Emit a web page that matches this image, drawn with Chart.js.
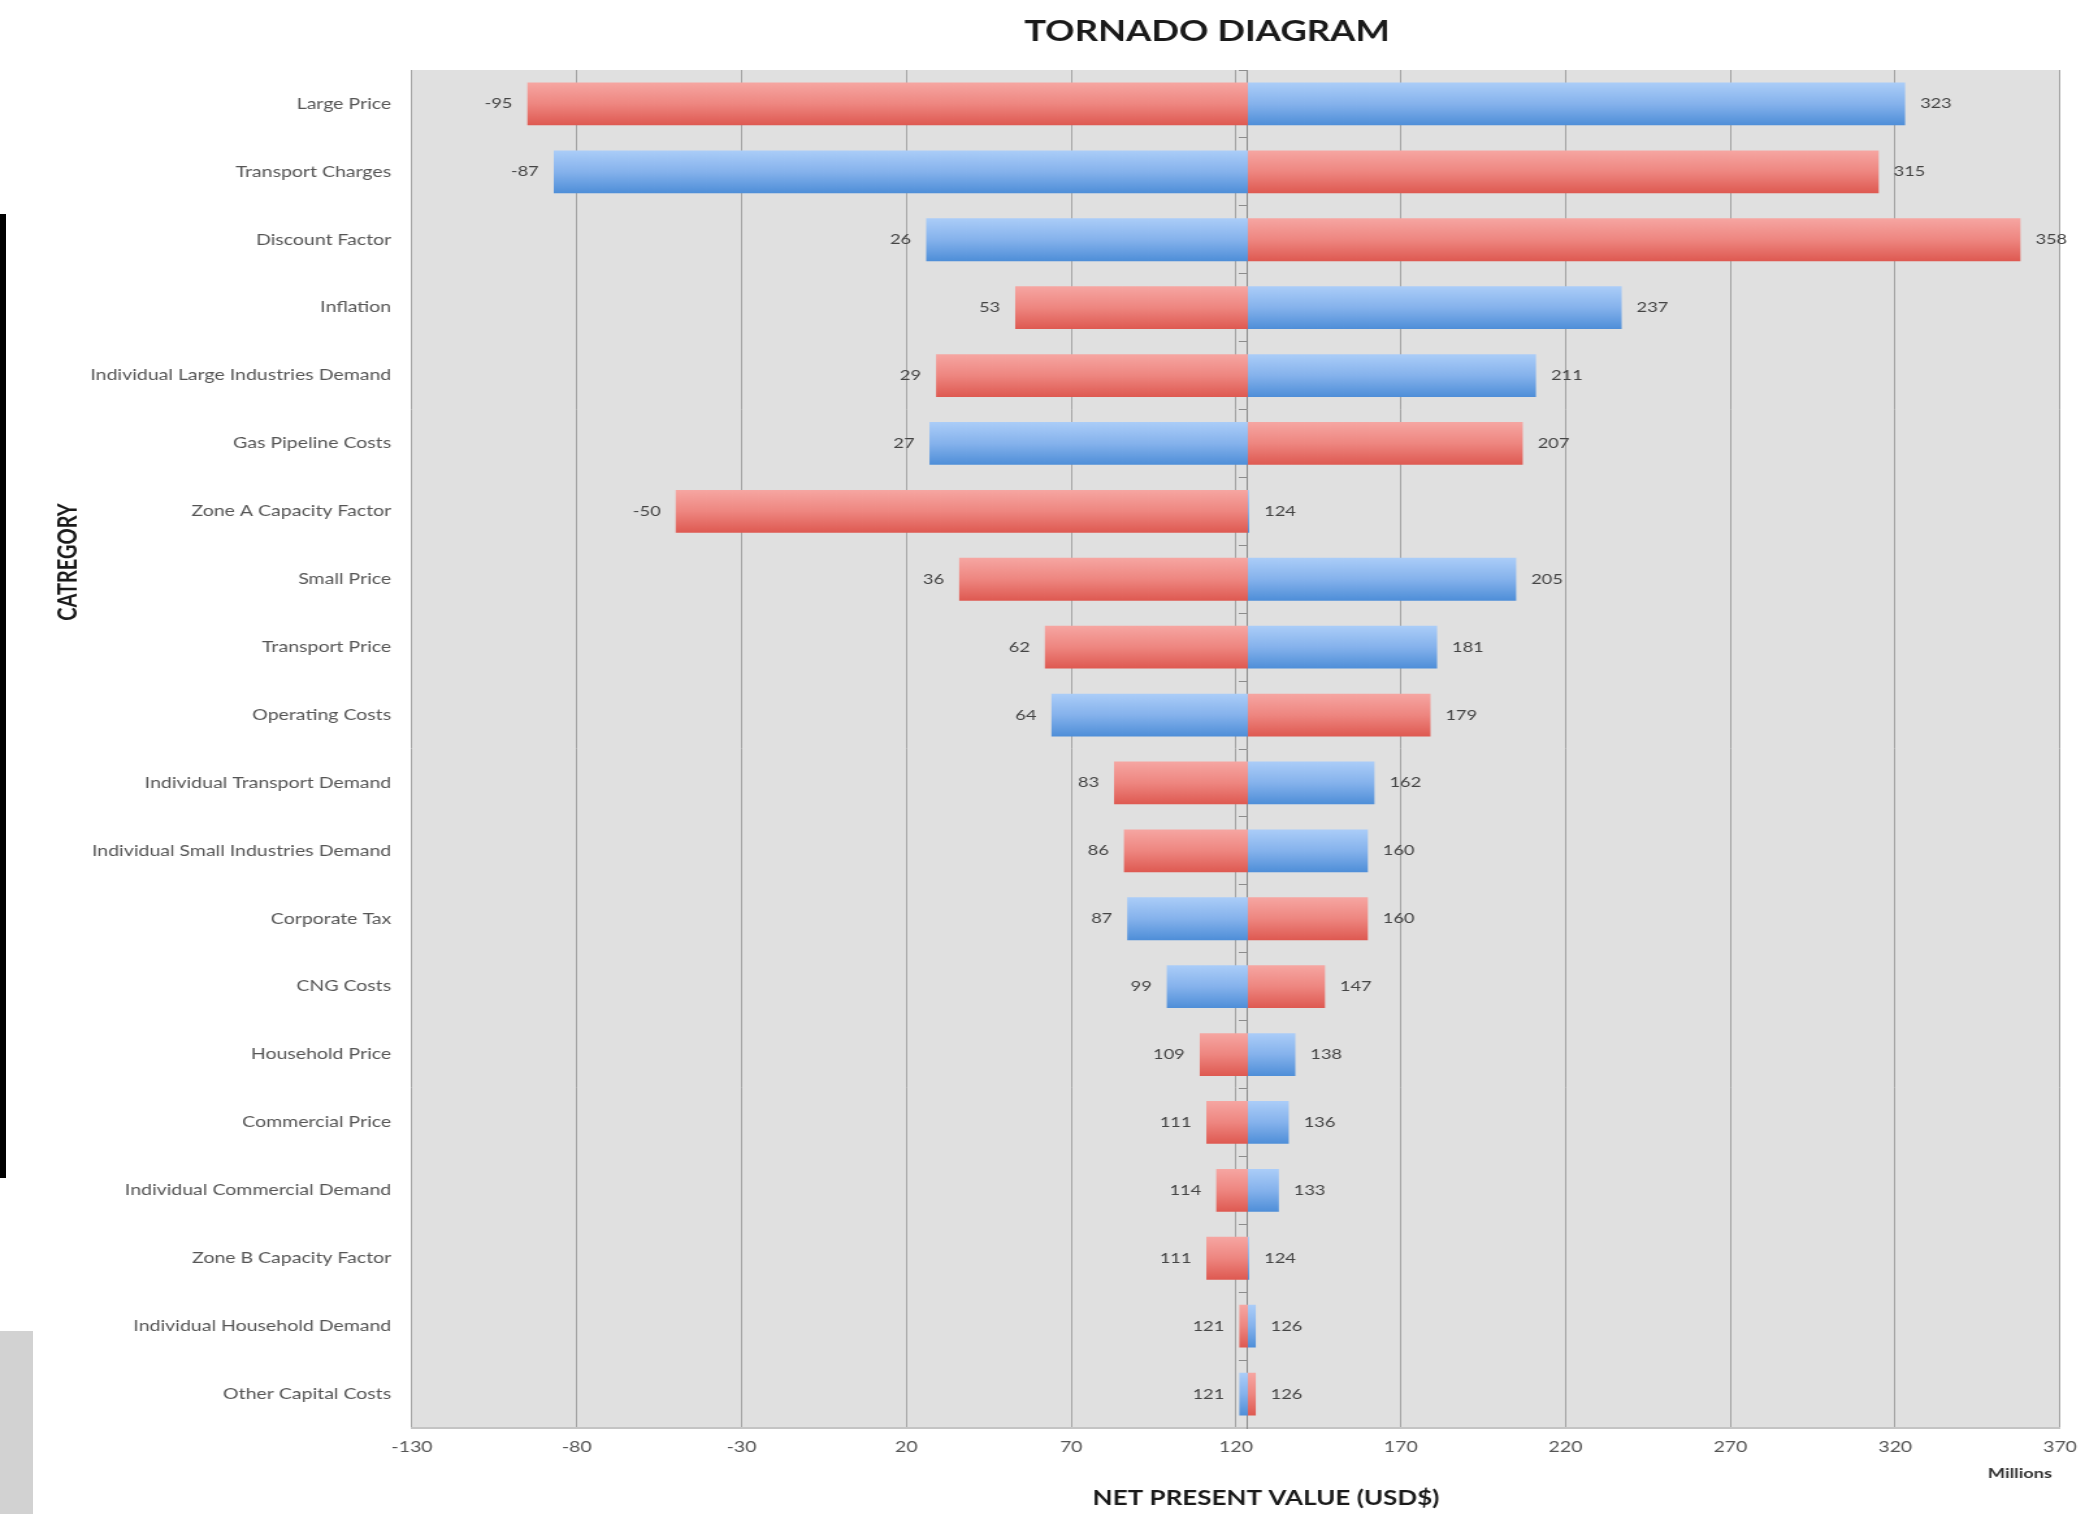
<!DOCTYPE html>
<html>
<head>
<meta charset="utf-8">
<style>
  html, body { margin: 0; padding: 0; background: #ffffff; overflow: hidden; }
  #wrap { position: relative; width: 2098px; height: 1514px; overflow: hidden; }
  #stretch { position: absolute; left: 0; top: 0; width: 1614px; height: 1514px; transform-origin: 0 0; }
  #c { display: block; }
  .artifact-bar { position: absolute; left: 0; top: 214px; width: 6px; height: 964px; background: #000; }
  .artifact-box { position: absolute; left: 0; top: 1331px; width: 33px; height: 183px; background: #d2d2d2; }
</style>
<script src="https://cdn.jsdelivr.net/npm/chart.js@4.4.1/dist/chart.umd.min.js"></script>
</head>
<body>
<div id="wrap">
  <div id="stretch"><canvas id="c" width="1614" height="1514"></canvas></div>
  <div class="artifact-bar"></div>
  <div class="artifact-box"></div>
</div>
<script>
// ---------- DATA ----------
const categories = [
  "Large Price", "Transport Charges", "Discount Factor", "Inflation",
  "Individual Large Industries Demand", "Gas Pipeline Costs", "Zone A Capacity Factor",
  "Small Price", "Transport Price", "Operating Costs", "Individual Transport Demand",
  "Individual Small Industries Demand", "Corporate Tax", "CNG Costs", "Household Price",
  "Commercial Price", "Individual Commercial Demand", "Zone B Capacity Factor",
  "Individual Household Demand", "Other Capital Costs"
];
const redValues  = [-95, 315, 358, 53, 29, 207, -50, 36, 62, 179, 83, 86, 160, 147, 109, 111, 114, 111, 121, 126];
const blueValues = [323, -87, 26, 237, 211, 27, 124, 205, 181, 64, 162, 160, 87, 99, 138, 136, 133, 124, 126, 121];
const baseValue = 123.6;
const xTickMin = -130, xTickMax = 370, xTickStep = 50;
const chartTitle = "TORNADO DIAGRAM";
const xTitle = "NET PRESENT VALUE (USD$)";
const yTitle = "CATREGORY";
const unitsLabel = "Millions";

// ---------- LAYOUT / STYLE ----------
// The reference picture is horizontally stretched; the canvas is drawn narrower and stretched with CSS.
const CANVAS_W = 1614, CANVAS_H = 1514;
const SX = 2098 / CANVAS_W;
document.getElementById('stretch').style.transform = 'scaleX(' + SX + ')';
const fx = v => v / SX; // full-page x -> canvas x

const FONT = "Lato, 'Open Sans', 'DejaVu Sans', sans-serif";
const PLOT = { left: fx(412), right: fx(2060), top: 70, bottom: 1428 };

const redData = redValues.map(v => [baseValue, v]);
const blueData = blueValues.map(v => [baseValue, v]);

const gradColors = {
  red:  ['#f6a6a2', '#ee8680', '#de5951'],
  blue: ['#abcdf8', '#85b2ec', '#4e8ed8']
};

const plotBg = {
  id: 'plotBg',
  beforeDraw(chart) {
    const { ctx, chartArea: a } = chart;
    ctx.save();
    ctx.fillStyle = '#e0e0e0';
    ctx.fillRect(a.left, a.top, a.right - a.left, a.bottom - a.top);
    ctx.restore();
  }
};

const barGradients = {
  id: 'barGradients',
  beforeDatasetsDraw(chart) {
    const ctx = chart.ctx;
    chart.data.datasets.forEach((ds, di) => {
      const meta = chart.getDatasetMeta(di);
      const cols = gradColors[ds.colorKey];
      meta.data.forEach(el => {
        const p = el.getProps(['y', 'height'], true);
        const top = p.y - p.height / 2, bot = p.y + p.height / 2;
        const g = ctx.createLinearGradient(0, top, 0, bot);
        g.addColorStop(0, cols[0]);
        g.addColorStop(0.5, cols[1]);
        g.addColorStop(1, cols[2]);
        el.options.backgroundColor = g;
      });
    });
  }
};

const valueLabels = {
  id: 'valueLabels',
  afterDatasetsDraw(chart) {
    const ctx = chart.ctx;
    ctx.save();
    ctx.font = "14px " + FONT;
    ctx.fillStyle = '#444444';
    ctx.textBaseline = 'middle';
    chart.data.datasets.forEach((ds, di) => {
      const meta = chart.getDatasetMeta(di);
      meta.data.forEach((el, i) => {
        const v = ds.rawValues[i];
        const p = el.getProps(['x', 'y', 'base'], true);
        if (v < baseValue - 0.5) {
          ctx.textAlign = 'right';
          ctx.fillText(String(v), Math.min(p.x, p.base) - fx(15), p.y);
        } else {
          ctx.textAlign = 'left';
          ctx.fillText(String(v), Math.max(p.x, p.base) + fx(15), p.y);
        }
      });
    });
    ctx.restore();
  }
};

const titles = {
  id: 'titles',
  afterDraw(chart) {
    const ctx = chart.ctx;
    ctx.save();
    ctx.fillStyle = '#1a1a1a';
    ctx.textAlign = 'center';
    ctx.textBaseline = 'middle';
    ctx.font = "bold 28px " + FONT;
    ctx.fillText(chartTitle, fx(1207), 32);
    ctx.font = "bold 20px " + FONT;
    ctx.fillText(xTitle, fx(1266), 1499);
    ctx.font = "bold 14px " + FONT;
    ctx.fillStyle = '#333333';
    ctx.fillText(unitsLabel, fx(2020), 1473);
    ctx.translate(fx(68), 562);
    ctx.rotate(-Math.PI / 2);
    ctx.font = "bold 20px " + FONT;
    ctx.fillStyle = '#1a1a1a';
    ctx.fillText(yTitle, 0, 0);
    ctx.restore();
  }
};

new Chart(document.getElementById('c'), {
  type: 'bar',
  data: {
    labels: categories,
    datasets: [
      {
        label: 'Red',
        colorKey: 'red',
        rawValues: redValues,
        data: redData,
        backgroundColor: () => '#e8736c',
        borderWidth: 0,
        borderSkipped: false,
        grouped: false,
        barPercentage: 0.63,
        categoryPercentage: 1.0
      },
      {
        label: 'Blue',
        colorKey: 'blue',
        rawValues: blueValues,
        data: blueData,
        backgroundColor: () => '#6fa3e6',
        borderWidth: 0,
        borderSkipped: false,
        grouped: false,
        barPercentage: 0.63,
        categoryPercentage: 1.0
      }
    ]
  },
  options: {
    indexAxis: 'y',
    responsive: false,
    animation: false,
    devicePixelRatio: 1,
    layout: { padding: { top: PLOT.top, left: 0, right: CANVAS_W - PLOT.right, bottom: 0 } },
    plugins: {
      legend: { display: false },
      title: { display: false },
      tooltip: { enabled: false }
    },
    scales: {
      x: {
        type: 'linear',
        min: xTickMin,
        max: xTickMax,
        ticks: {
          stepSize: xTickStep,
          color: '#555555',
          font: { family: FONT, size: 15 },
          padding: 10
        },
        grid: { color: '#a3a3a3', lineWidth: 1, tickLength: 0, drawTicks: false },
        border: { display: true, color: '#c4c4c4', width: 2 },
        afterFit(scale) { scale.height = CANVAS_H - PLOT.bottom; }
      },
      y: {
        type: 'category',
        offset: true,
        ticks: {
          color: '#555555',
          font: { family: FONT, size: 15 },
          padding: 8,
          autoSkip: false
        },
        grid: { display: false },
        border: { display: false },
        afterFit(scale) { scale.width = PLOT.left; }
      },
      y2: {
        type: 'category',
        position: { x: baseValue },
        offset: true,
        ticks: { display: false },
        grid: { drawOnChartArea: false, offset: true, tickLength: 6, color: '#8c8c8c' },
        border: { display: true, color: '#8c8c8c', width: 1 }
      }
    }
  },
  plugins: [plotBg, barGradients, valueLabels, titles]
});
</script>
</body>
</html>
